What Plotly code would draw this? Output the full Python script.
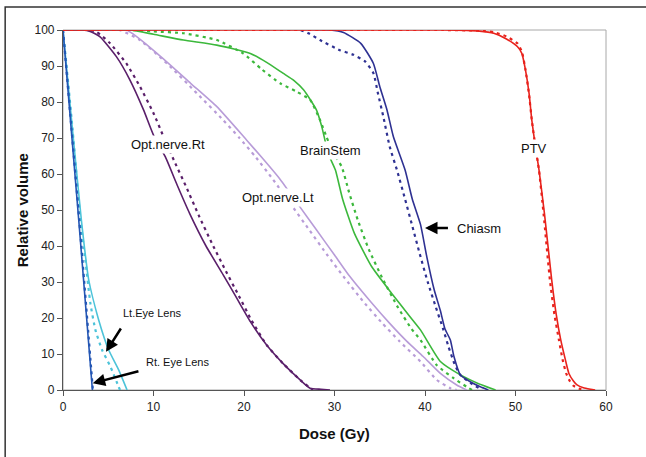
import plotly.graph_objects as go

# ---- data (dose in Gy, relative volume in %) ----
ptv_x = [0, 42, 46, 47.6, 49, 50.2, 50.7, 51.1, 51.5, 51.8, 52.2, 52.6, 53.2, 54.0, 54.5, 55.0, 55.5, 55.9, 56.4, 56.8, 57.5, 58.3, 58.8]
ptv_y = [100, 100, 99.7, 99.1, 97.5, 95.4, 93.5, 88.9, 82.4, 75, 67.6, 61.1, 49, 30.6, 21, 13.9, 8.5, 4.6, 2.5, 1.4, 0.6, 0.2, 0]
ptv2_x = [0, 42, 46, 47.6, 49, 50.2, 50.7, 51.1, 51.5, 51.8, 52.2, 52.6, 53.1, 53.8, 54.3, 54.8, 55.2, 55.6, 56.0, 56.4, 57.0, 57.6]
ptv2_y = [100, 100, 99.8, 99.4, 98.2, 96.3, 94, 89, 82, 75, 67.6, 61, 49, 30.6, 21, 13.9, 8.5, 4.6, 2.5, 1.2, 0.4, 0]

chi_x = [0, 29.5, 31, 32.9, 34.3, 35.0, 35.8, 36.5, 37.8, 38.6, 39.5, 40.2, 41.0, 41.7, 42.2, 42.8, 43.2, 43.9, 45.0, 46.1, 47.0]
chi_y = [100, 100, 99.3, 96.3, 90.7, 84.3, 77.8, 70.4, 61.1, 53, 46, 37, 28, 22, 17, 13.9, 9.3, 4.2, 2.3, 0.9, 0]
chi2_x = [0, 26.2, 27.2, 28.4, 30.6, 32.1, 33.4, 34.3, 34.8, 35.4, 36.1, 36.9, 37.8, 38.6, 39.4, 40.3, 41.2, 42.0, 42.6, 43.3, 43.9, 45.0, 46.3]
chi2_y = [100, 100, 99, 97.2, 94.4, 93.1, 91.2, 88, 82.4, 75.9, 67.6, 61.1, 53, 45.5, 38, 30, 23, 17, 12, 7, 4.2, 2, 0]

bs_x = [0, 7.4, 10, 13.3, 17, 20.7, 22.5, 24.3, 25.5, 26.6, 28, 28.6, 29.3, 30.1, 30.9, 32.2, 34.1, 36.3, 38.3, 39.5, 41.7, 43.9, 45.8, 47.8]
bs_y = [100, 100, 98.8, 97.2, 95.8, 93.5, 91, 88, 86, 83.3, 77.8, 73.1, 65.7, 61.1, 53, 43.5, 34.3, 26.9, 20.5, 16.7, 7.9, 4.2, 1.9, 0]
bs2_x = [0, 7.6, 10, 13.3, 17, 19.9, 22, 24, 25.8, 27.3, 28.4, 29.1, 29.9, 30.8, 31.6, 32.6, 33.8, 35.3, 37, 38.5, 39.5, 41.3, 43.2, 44.6, 45.2]
bs2_y = [100, 100, 99.6, 99.1, 97.2, 93.5, 89, 85.2, 82.9, 80.6, 75, 70.4, 65.7, 62, 55, 47, 39, 31, 23, 17, 13.9, 6.9, 3.2, 0.9, 0]

onl_x = [0, 7.0, 10.8, 14.1, 17.0, 20.3, 22, 24, 26, 28, 30, 31.7, 34, 36.1, 38, 39.8, 41.7, 43.5, 44.6]
onl_y = [100, 100, 92.6, 85.2, 78.7, 69.4, 64.5, 58.5, 51.5, 44.5, 37.5, 31.5, 24.5, 18.5, 13.5, 9.3, 4.6, 1.4, 0]
onl2_x = [0, 6.2, 8.5, 11.5, 14.8, 17.7, 19.5, 21.2, 23.2, 25.2, 27.2, 29.2, 31, 33.2, 35.3, 37.2, 39.5, 41.3, 42.8, 43.5]
onl2_y = [100, 100, 97.2, 90.7, 82.4, 75, 70, 65, 58.5, 51.5, 44.5, 37.5, 31.5, 24.5, 18.5, 13.5, 7.9, 2.8, 0.5, 0]

onr_x = [0, 2.1, 3, 4.1, 5.9, 7.4, 8.9, 10.0, 11.3, 12.6, 14.0, 15.8, 17.7, 19.2, 20.7, 22.5, 24.3, 26.2, 27.3, 28.5, 29.5]
onr_y = [100, 100, 99.6, 98.1, 92.6, 86.1, 77.8, 70.8, 64.8, 57, 49, 40, 32, 25.5, 19, 12.5, 7.4, 2.8, 0.5, 0.2, 0]
onr2_x = [0, 2.8, 3.7, 5.2, 7.0, 8.5, 10.0, 11.1, 12.4, 13.6, 15.0, 16.5, 18.0, 19.4, 20.8, 22.5, 24.3, 26.2, 27.6]
onr2_y = [100, 100, 99.5, 96.3, 90.7, 84.3, 76.9, 70.4, 63, 56.5, 48.5, 40.5, 33, 26.3, 19.5, 12.5, 7.4, 2.8, 0]

lle_x = [0, 1.0, 2.03, 2.84, 3.95, 5.05, 6.15, 7.08]
lle_y = [100, 73.6, 47.2, 30.6, 19.4, 11.1, 5.6, 0]
lle2_x = [0, 1.0, 1.9, 2.47, 3.03, 3.58, 4.32, 5.24, 6.15, 6.3]
lle2_y = [100, 74, 48, 36.1, 24, 16.7, 11.1, 6.5, 0.9, 0]

rle_x = [0, 1.74, 3.25]
rle_y = [100, 47.2, 0]
rle2_x = [0, 1.8, 3.3]
rle2_y = [100, 47, 0]

x_ticks = [0, 10, 20, 30, 40, 50, 60]
y_ticks = [0, 10, 20, 30, 40, 50, 60, 70, 80, 90, 100]

# ---- styles ----
series = [
    (lle_x, lle_y, lle2_x, lle2_y, "#4cc3d9"),
    (rle_x, rle_y, rle2_x, rle2_y, "#2456b4"),
    (onr_x, onr_y, onr2_x, onr2_y, "#5a1f6a"),
    (onl_x, onl_y, onl2_x, onl2_y, "#b89cd8"),
    (bs_x, bs_y, bs2_x, bs2_y, "#3cb83c"),
    (chi_x, chi_y, chi2_x, chi2_y, "#2e3192"),
    (ptv_x, ptv_y, ptv2_x, ptv2_y, "#e8221c"),
]

fig = go.Figure()
for sx, sy, dx, dy, col in series:
    fig.add_trace(go.Scatter(x=dx, y=dy, mode="lines",
                             line=dict(color=col, width=2.2, dash="3px,4px",
                                       shape="spline", smoothing=0.5),
                             hoverinfo="skip"))
    fig.add_trace(go.Scatter(x=sx, y=sy, mode="lines",
                             line=dict(color=col, width=1.6, shape="spline", smoothing=0.5),
                             hoverinfo="skip"))

FONT = "Arial, Liberation Sans, sans-serif"

labels = [
    ("Opt.nerve.Rt", 11.6, 68.1, 13, True),
    ("BrainStem", 29.6, 66.4, 13, True),
    ("Opt.nerve.Lt", 23.8, 53.6, 13, True),
    ("PTV", 52.0, 67.2, 13, True),
    ("Chiasm", 46.0, 45.0, 13, False),
    ("Lt.Eye Lens", 9.9, 21.4, 11, False),
    ("Rt. Eye Lens", 12.6, 7.8, 11, False),
]
annotations = []
for t, x, y, s, bg in labels:
    annotations.append(dict(x=x, y=y, xref="x", yref="y", text=t, showarrow=False,
                            font=dict(family=FONT, size=s, color="#111"),
                            bgcolor="white" if bg else "rgba(0,0,0,0)",
                            borderpad=1))

arrows = [
    (40.0, 45.0, 42.7, 45.0),
    (4.75, 10.6, 6.5, 17.5),
    (3.28, 1.9, 8.5, 5.3),
]
for x, y, ax, ay in arrows:
    annotations.append(dict(x=x, y=y, ax=ax, ay=ay, xref="x", yref="y", axref="x", ayref="y",
                            text="", showarrow=True, arrowhead=2, arrowsize=1,
                            arrowwidth=2.5, arrowcolor="black"))

annotations.append(dict(x=0.5, y=-0.092, xref="paper", yref="paper", yanchor="top",
                        text="<b>Dose (Gy)</b>", showarrow=False,
                        font=dict(family=FONT, size=15, color="#111")))
annotations.append(dict(x=-0.075, y=0.5, xref="paper", yref="paper", xanchor="center",
                        text="<b>Relative volume</b>", showarrow=False, textangle=-90,
                        font=dict(family=FONT, size=15, color="#111")))

shapes = [
    dict(type="rect", xref="paper", yref="paper", x0=0, y0=0, x1=1, y1=1,
         line=dict(color="#a8a8a8", width=1), layer="below"),
    dict(type="rect", xref="paper", yref="paper", x0=-0.1065, y0=-0.25, x1=1.12, y1=1.064,
         line=dict(color="#333", width=1.5), layer="below"),
]

fig.update_layout(
    width=646, height=457,
    margin=dict(l=63, r=40, t=30, b=67),
    paper_bgcolor="white", plot_bgcolor="white",
    showlegend=False,
    annotations=annotations,
    shapes=shapes,
    xaxis=dict(range=[0, 60], tickvals=x_ticks, ticktext=[str(v) for v in x_ticks],
               showgrid=False, zeroline=False, showline=True, linecolor="#555", linewidth=1.2,
               ticks="outside", ticklen=5, tickcolor="#555",
               tickfont=dict(family=FONT, size=12, color="#222")),
    yaxis=dict(range=[0, 100], tickvals=y_ticks, ticktext=[str(v) for v in y_ticks],
               showgrid=False, zeroline=False, showline=True, linecolor="#555", linewidth=1.2,
               ticks="outside", ticklen=5, tickcolor="#555",
               tickfont=dict(family=FONT, size=12, color="#222")),
)

fig.write_html("out.html")
